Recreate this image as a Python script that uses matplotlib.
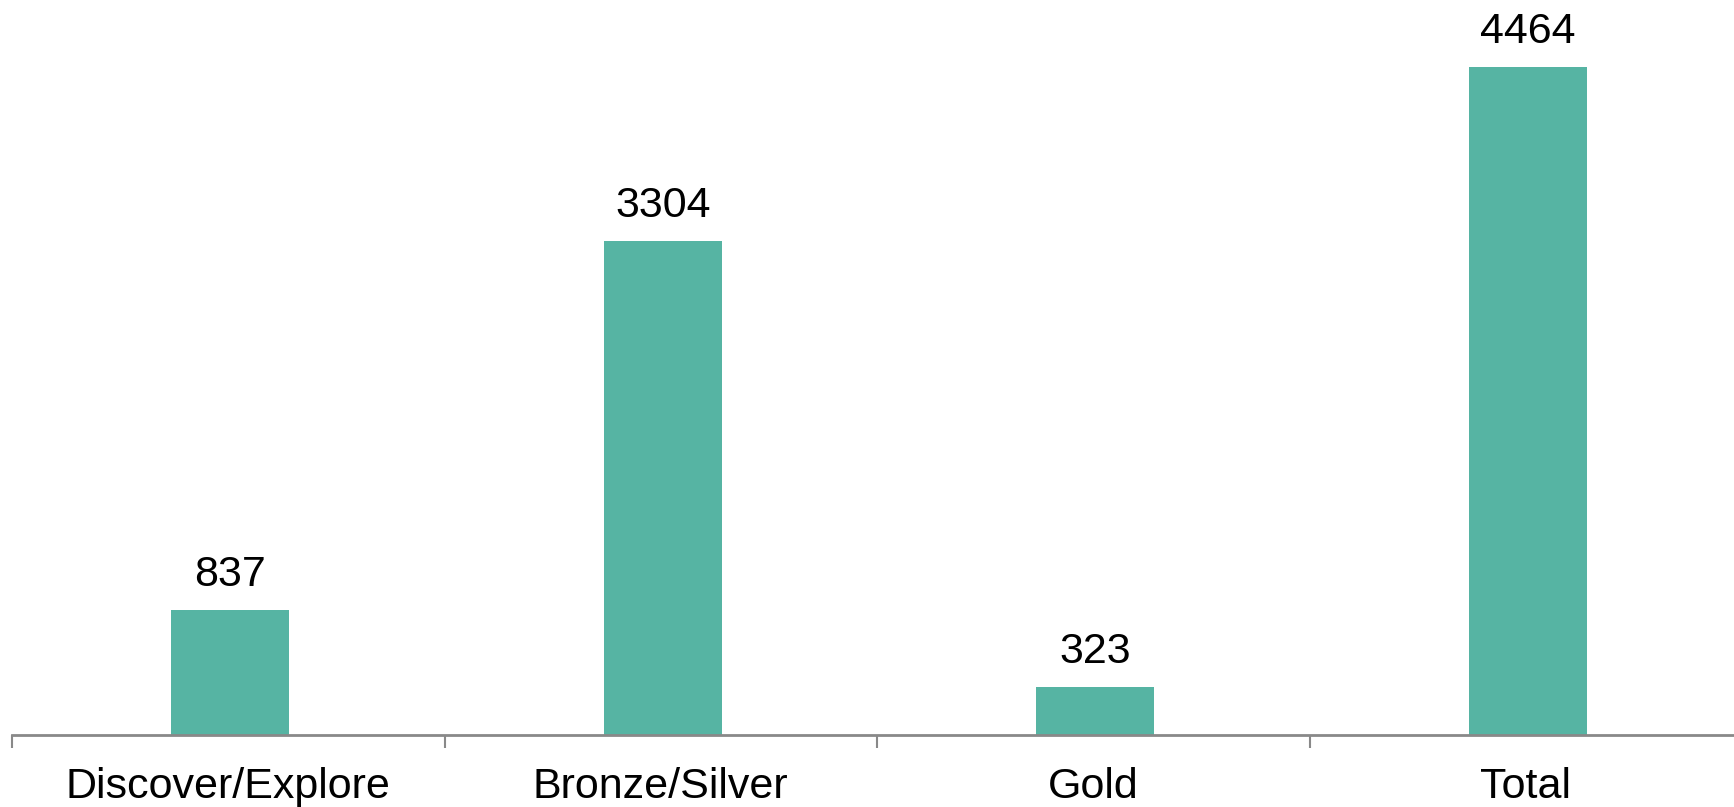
import matplotlib
matplotlib.use("Agg")
import matplotlib.pyplot as plt
import numpy as np

categories = ["Discover/Explore", "Bronze/Silver", "Gold", "Total"]
values = [837, 3304, 323, 4464]

plt.rcParams['font.family'] = ['Liberation Sans', 'DejaVu Sans']

W, H = 1734, 807
fig = plt.figure(figsize=(W / 100, H / 100), dpi=100)
base_px = 735
ax = fig.add_axes([12 / W, (H - base_px) / H, 1730 / W, base_px / H])

x = np.arange(len(categories))
bars = ax.bar(x + 0.005, values, width=0.273, color="#56B4A3")

px_per_unit = (735 - 67) / 4464
ax.set_ylim(0, base_px / px_per_unit)
ax.set_xlim(-0.5, len(categories) - 0.5)

for xi, v in zip(x, values):
    ax.annotate(f"{v}", (xi + 0.005, v), xytext=(0, 17), textcoords="offset points",
                ha="center", va="baseline", fontsize=31, color="black")

for s in ["top", "right", "left"]:
    ax.spines[s].set_visible(False)
ax.spines["bottom"].set_color("#898989")
ax.spines["bottom"].set_linewidth(2)
ax.set_yticks([])

ax.set_xticks(x)
ax.set_xticklabels(categories, fontsize=31)
ax.tick_params(axis="x", which="major", length=0, pad=23)
ax.set_xticks(np.arange(-0.5, len(categories) + 0.5, 1), minor=True)
ax.tick_params(axis="x", which="minor", length=9.5, width=1.5, color="#898989")

fig.savefig("out.png", dpi=100)
